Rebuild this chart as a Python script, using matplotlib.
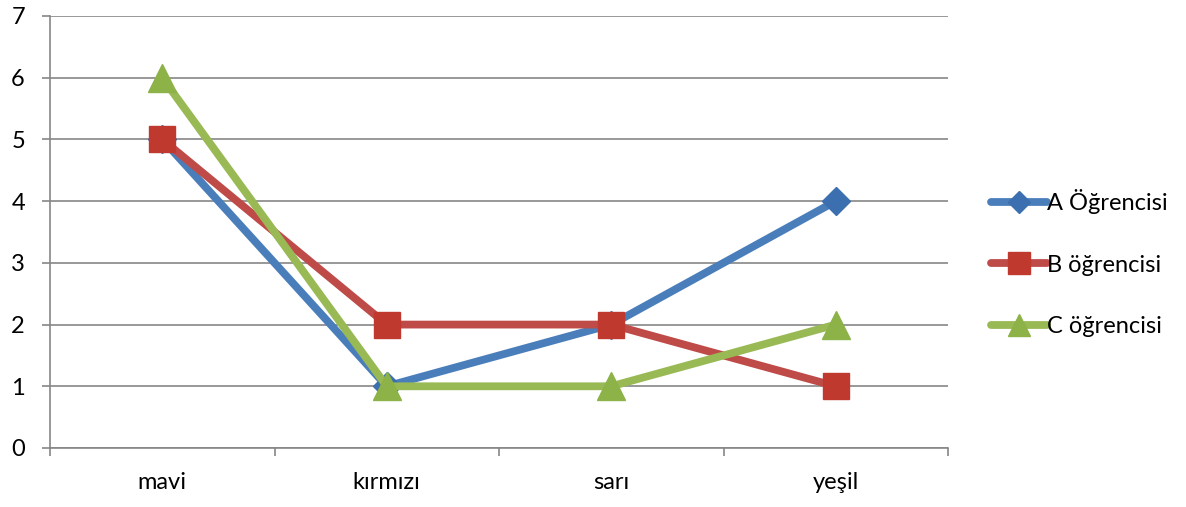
import matplotlib
matplotlib.use("Agg")
import matplotlib.pyplot as plt
import numpy as np

categories = ["mavi", "kırmızı", "sarı", "yeşil"]
series_names = ["A Öğrencisi", "B öğrencisi", "C öğrencisi"]
a_vals = [5, 1, 2, 4]
b_vals = [5, 2, 2, 1]
c_vals = [6, 1, 1, 2]
y_ticks = [0, 1, 2, 3, 4, 5, 6, 7]

plt.rcParams["font.family"] = ["Lato", "DejaVu Sans"]

fig = plt.figure(figsize=(11.86, 5.07), dpi=100)
ax = fig.add_axes([50 / 1186, 1 - 448 / 507, 898 / 1186, 432 / 507])

x = np.arange(len(categories))
styles = [
    (a_vals, "#4A7EBB", "D", 14, "#3C6FB0"),
    (b_vals, "#BE4B48", "s", 19, "#C0392F"),
    (c_vals, "#98B954", "^", 20, "#8DB247"),
]
for (vals, col, mk, ms, mc), name in zip(styles, series_names):
    ax.plot(x, vals, color=col, lw=5.6, marker=mk, ms=ms, mfc=mc, mec=mc,
            solid_capstyle="round", label=name, zorder=3)

ax.set_xlim(-0.5, len(categories) - 0.5)
ax.set_ylim(0, 7)
ax.set_yticks(y_ticks)
ax.set_xticks(x)
ax.set_xticklabels(categories, fontsize=17)
ax.set_xticks(np.arange(len(categories) + 1) - 0.5, minor=True)
ax.tick_params(axis="x", which="major", length=0, pad=17)
ax.tick_params(axis="x", which="minor", length=6, color="#868686", width=1.2)
ax.tick_params(axis="y", length=6, color="#868686", width=1.2, labelsize=17, pad=12)
ax.yaxis.grid(True, color="#868686", lw=1.2)
ax.set_axisbelow(True)
for s in ["top", "right"]:
    ax.spines[s].set_visible(False)
for s in ["left", "bottom"]:
    ax.spines[s].set_color("#868686")
    ax.spines[s].set_linewidth(1.2)

leg = fig.legend(loc="center left", bbox_to_anchor=(979 / 1186, 1 - 263 / 507),
                 frameon=False, fontsize=17, handlelength=2.4, handletextpad=0.0,
                 labelspacing=1.72, borderpad=0, markerscale=0.8)

fig.savefig("out.png", dpi=100)
